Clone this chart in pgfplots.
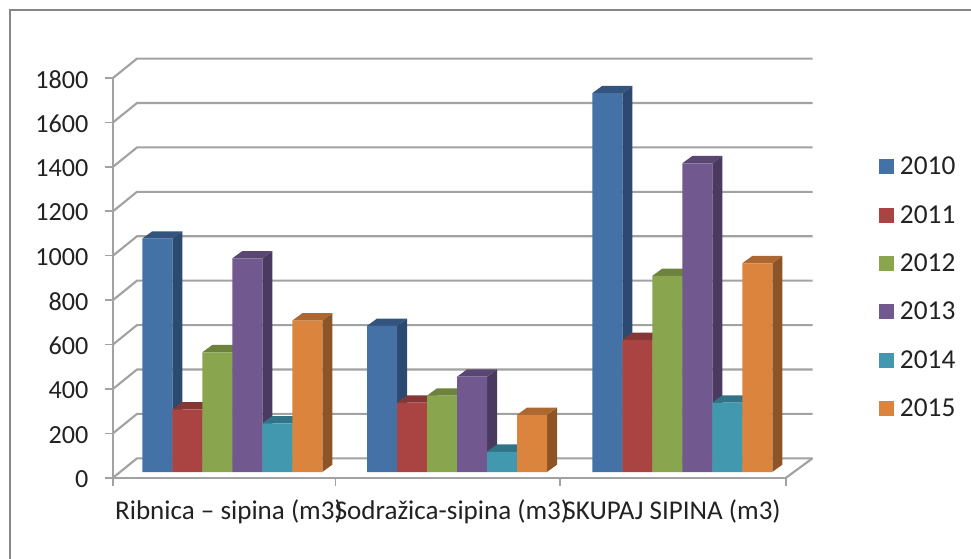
\documentclass[border=0pt]{standalone}
\usepackage{pgfplots}
\pgfplotsset{compat=1.18}
\usepackage{fontspec}
\setmainfont{Carlito}
\definecolor{gridc}{HTML}{A2A2A2}
\definecolor{framec}{HTML}{868686}
\definecolor{txt}{HTML}{222222}
\definecolor{b1}{HTML}{4472A6}\definecolor{b2}{HTML}{2C4A70}\definecolor{b3}{HTML}{33547F}
\definecolor{r1}{HTML}{A94442}\definecolor{r2}{HTML}{7D302F}\definecolor{r3}{HTML}{853735}
\definecolor{g1}{HTML}{89A54E}\definecolor{g2}{HTML}{5F7536}\definecolor{g3}{HTML}{6C823D}
\definecolor{p1}{HTML}{71588F}\definecolor{p2}{HTML}{4B3A60}\definecolor{p3}{HTML}{5A4672}
\definecolor{t1}{HTML}{4198AF}\definecolor{t2}{HTML}{2B6A7B}\definecolor{t3}{HTML}{317487}
\definecolor{o1}{HTML}{DB843D}\definecolor{o2}{HTML}{8D5427}\definecolor{o3}{HTML}{AC6830}
\newcommand{\faces}[4]{%
  \pgfmathsetmacro\xa{#3+30}\pgfmathsetmacro\xb{#3+40}\pgfmathsetmacro\xc{#3+10}\pgfmathsetmacro\vb{#4+33}%
  \edef\tmp{\noexpand\addplot[forget plot,fill=#1,draw=none] coordinates {(\xa,0)(\xb,33)(\xb,\vb)(\xa,#4)} --cycle;
  \noexpand\addplot[forget plot,fill=#2,draw=none] coordinates {(#3,#4)(\xa,#4)(\xb,\vb)(\xc,\vb)} --cycle;}\tmp}
\newcommand{\wall}[1]{\pgfmathsetmacro\vb{#1+87.4}%
  \edef\tmp{\noexpand\addplot[forget plot,gridc,line width=1.6pt] coordinates {(113,#1)(137,\vb)(812.5,\vb)};}\tmp}
\begin{document}
\begin{tikzpicture}
\path[use as bounding box] (0,0) rectangle (728.25pt,418.5pt);
\draw[framec,line width=1.5pt] (7.6pt,-2pt) -- (7.6pt,411pt) -- (731pt,411pt);
\begin{axis}[
  at={(84.75pt,60.2pt)},anchor=origin,
  scale only axis,width=504.75pt,height=299.8pt,
  xmin=113,xmax=786,ymin=0,ymax=1800,
  axis x line*=bottom,axis y line*=left,
  axis line style={-,gridc,line width=1.6pt},
  tick align=outside,major tick length=6pt,minor tick length=6pt,
  tick style={gridc,line width=1.2pt},
  ytick={0,200,...,1800},
  xtick={229,452,672},
  minor xtick={113,335.5,560,786},
  x tick style={draw=none},
  minor x tick style={draw=gridc,line width=1.2pt},
  xticklabels={Ribnica – sipina (m3),Sodražica-sipina (m3),SKUPAJ SIPINA (m3)},
  /pgf/number format/assume math mode=true,
  /pgf/number format/set thousands separator={},
  xticklabel style={font=\fontsize{20.3}{22}\selectfont,text=txt,yshift=-7pt},
  yticklabel style={font=\fontsize{19.6}{22}\selectfont,text=txt,xshift=-9pt,yshift=-1pt},
  clip=false,
]
\wall{0}\wall{200}\wall{400}\wall{600}\wall{800}\wall{1000}\wall{1200}\wall{1400}\wall{1600}\wall{1800}
\addplot[forget plot,gridc,line width=1.6pt] coordinates {(786,0)(812.5,87.4)};
\end{axis}
\begin{axis}[
  at={(84.75pt,64.5pt)},anchor=origin,
  scale only axis,width=504.75pt,height=299.8pt,
  xmin=113,xmax=786,ymin=0,ymax=1800,
  hide axis,clip=false,
  bar width=22.5pt,
  legend cell align=left,
  legend style={draw=none,fill=none,at={(axis cs:879,1431)},anchor=north west,
    font=\fontsize{20.5}{22}\selectfont,text=txt,row sep=17.5pt,inner sep=0pt,outer sep=0pt,
    /tikz/every odd column/.append style={column sep=2.5pt}},
  legend image code/.code={\fill[#1] (0pt,-5.6pt) rectangle (11.2pt,5.6pt);},
]
\faces{b2}{b3}{142.3}{1051}\faces{b2}{b3}{367}{658}\faces{b2}{b3}{592.3}{1706}
\addplot[ybar,bar shift=0pt,fill=b1,draw=none] coordinates {(157.3,1051)(382,658)(607.3,1706)};
\faces{r2}{r3}{172.3}{282}\faces{r2}{r3}{397}{312}\faces{r2}{r3}{622.3}{595}
\addplot[ybar,bar shift=0pt,fill=r1,draw=none] coordinates {(187.3,282)(412,312)(637.3,595)};
\faces{g2}{g3}{202.3}{539}\faces{g2}{g3}{427}{344}\faces{g2}{g3}{652.3}{883}
\addplot[ybar,bar shift=0pt,fill=g1,draw=none] coordinates {(217.3,539)(442,344)(667.3,883)};
\faces{p2}{p3}{232.3}{962}\faces{p2}{p3}{457}{429}\faces{p2}{p3}{682.3}{1390}
\addplot[ybar,bar shift=0pt,fill=p1,draw=none] coordinates {(247.3,962)(472,429)(697.3,1390)};
\faces{t2}{t3}{262.3}{219}\faces{t2}{t3}{487}{91}\faces{t2}{t3}{712.3}{312}
\addplot[ybar,bar shift=0pt,fill=t1,draw=none] coordinates {(277.3,219)(502,91)(727.3,312)};
\faces{o2}{o3}{292.3}{682}\faces{o2}{o3}{517}{257}\faces{o2}{o3}{742.3}{940}
\addplot[ybar,bar shift=0pt,fill=o1,draw=none] coordinates {(307.3,682)(532,257)(757.3,940)};
\legend{2010,2011,2012,2013,2014,2015}
\end{axis}
\end{tikzpicture}
\end{document}
